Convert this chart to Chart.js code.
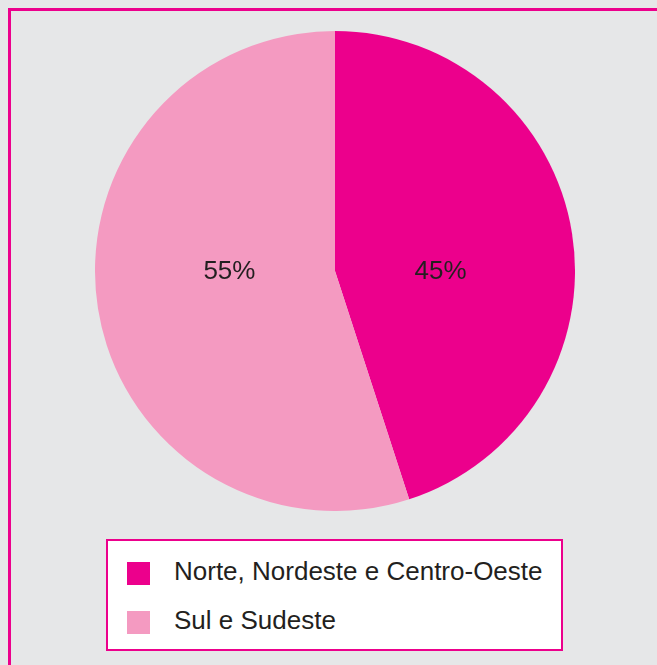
<!DOCTYPE html>
<html>
<head>
<meta charset="utf-8">
<script src="https://cdn.jsdelivr.net/npm/chart.js@4"></script>
<style>
  html, body { margin: 0; padding: 0; }
  body {
    width: 657px; height: 665px; overflow: hidden; position: relative;
    background: #e6e7e8;
    font-family: "Liberation Sans", Arial, sans-serif;
  }
  #frame {
    position: absolute; left: 8px; top: 8px; width: 700px; height: 700px;
    border: 3px solid #ec008c; box-sizing: border-box;
  }
  #pieWrap { position: absolute; left: 95px; top: 31px; width: 480px; height: 480px; }
  #legend {
    position: absolute; left: 106px; top: 539px; width: 457px; height: 112px;
    box-sizing: border-box; border: 2px solid #ec008c; background: #fff;
  }
  .item { position: absolute; left: 19px; height: 26px; line-height: 26px; font-size: 26px; color: #231f20; }
  .item span.sw { position: absolute; left: 0; top: 1px; width: 23px; height: 23px; }
  .item span.tx { position: absolute; left: 47px; top: -3px; white-space: nowrap; }
</style>
</head>
<body>
<div id="frame"></div>
<div id="pieWrap"><canvas id="mychart"></canvas></div>
<div id="legend"></div>
<script>
// dados do gráfico
const regioes = ['Norte, Nordeste e Centro-Oeste', 'Sul e Sudeste'];
const percentuais = [45, 55];
const cores = ['#ec008c', '#f49ac1'];

// legenda em HTML (caixa com borda)
let legend = document.getElementById('legend');
for (let i = 0; i < regioes.length; i++) {
  legend.innerHTML += `<div class="item" style="top:${20 + i * 49}px"><span class="sw" style="background:${cores[i]}"></span><span class="tx">${regioes[i]}</span></div>`;
}

// rótulos de porcentagem dentro das fatias, na altura do centro
const pctLabels = {
  id: 'pctLabels',
  afterDatasetsDraw(chart) {
    const ctx = chart.ctx;
    const meta = chart.getDatasetMeta(0);
    ctx.save();
    ctx.font = '26px "Liberation Sans", Arial, sans-serif';
    ctx.fillStyle = '#231f20';
    ctx.textAlign = 'center';
    ctx.textBaseline = 'middle';
    meta.data.forEach((arc, i) => {
      const p = arc.getProps(['x', 'y', 'startAngle', 'endAngle', 'outerRadius'], true);
      const mid = (p.startAngle + p.endAngle) / 2;
      const dir = Math.cos(mid) >= 0 ? 1 : -1;
      ctx.fillText(percentuais[i] + '%', p.x + dir * 0.44 * p.outerRadius, p.y + 1);
    });
    ctx.restore();
  }
};

var ctx = document.getElementById('mychart').getContext('2d');
var chart = new Chart(ctx, {
  type: 'pie',
  data: {
    labels: regioes,
    datasets: [{
      data: percentuais,
      backgroundColor: cores,
      borderWidth: 0
    }]
  },
  options: {
    responsive: true,
    maintainAspectRatio: false,
    animation: false,
    layout: { padding: 0 },
    plugins: {
      legend: { display: false },
      tooltip: { enabled: false }
    }
  },
  plugins: [pctLabels]
});
</script>
</body>
</html>
